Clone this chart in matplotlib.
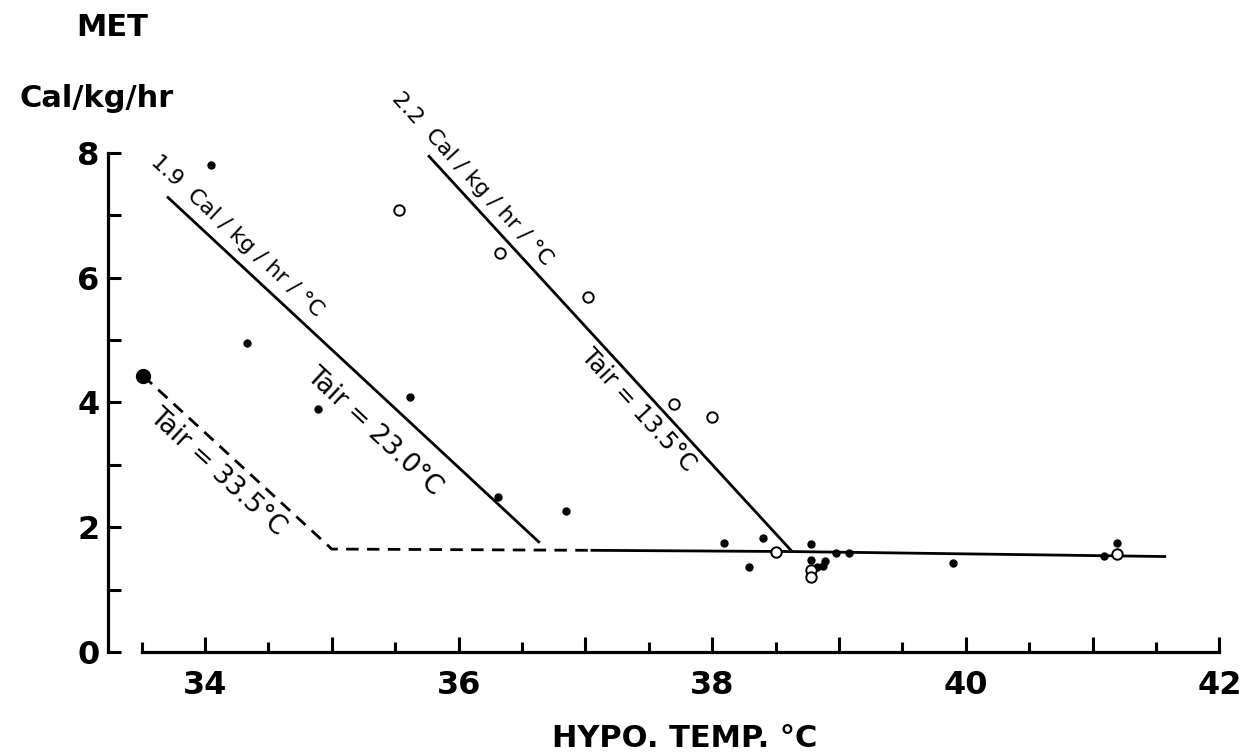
import numpy as np
import matplotlib
matplotlib.use("Agg")
import matplotlib.pyplot as plt
from matplotlib.ticker import FixedLocator

# fitted lines (hypothalamic temp, MET)
line_23_x = [33.70, 36.64]
line_23_y = [7.30, 1.75]
line_13_x = [35.76, 38.63, 41.58]
line_13_y = [7.96, 1.61, 1.53]
plateau_x = [37.04, 38.63]
plateau_y = [1.63, 1.61]
line_33_x = [33.51, 35.00, 37.04]
line_33_y = [4.43, 1.65, 1.63]

# filled points
filled_x = [34.05, 34.33, 35.62, 34.89, 36.31, 36.85, 38.09, 38.40, 38.29, 38.78,
            38.78, 38.83, 38.89, 38.87, 38.98, 39.08, 39.90, 41.09, 41.19]
filled_y = [7.81, 4.96, 4.08, 3.89, 2.48, 2.26, 1.75, 1.82, 1.36, 1.73,
            1.47, 1.37, 1.46, 1.38, 1.59, 1.59, 1.42, 1.54, 1.74]

# open points
open_x = [35.53, 36.33, 37.02, 37.70, 38.00, 38.50, 38.78, 38.78, 41.19]
open_y = [7.08, 6.40, 5.69, 3.97, 3.77, 1.61, 1.31, 1.20, 1.57]

# starting point of the Tair = 33.5 curve
big_x = [33.51]
big_y = [4.43]

x_major = [34, 35, 36, 37, 38, 39, 40, 41, 42]
x_labels = ["34", "", "36", "", "38", "", "40", "", "42"]
x_minor = [33.5, 34.5, 35.5, 36.5, 37.5, 38.5, 39.5, 40.5, 41.5]
y_major = [0, 2, 4, 6, 8]
y_minor = [1, 3, 5, 7]


def slope(xs, ys):
    return np.degrees(np.arctan((ys[1] - ys[0]) / (xs[1] - xs[0])))


fig = plt.figure(figsize=(12.44, 7.55), dpi=100)
ax = fig.add_axes([0.0868, 0.1364, 0.9019, 0.7025])
ax.set_xlim(33.235, 42.083)
ax.set_ylim(0, 8.5)

lw = 2.0
ax.plot(line_23_x, line_23_y, color="black", lw=lw, solid_capstyle="butt")
ax.plot(line_13_x, line_13_y, color="black", lw=lw, solid_capstyle="butt")
ax.plot(plateau_x, plateau_y, color="black", lw=lw, solid_capstyle="butt")
ax.plot(line_33_x, line_33_y, color="black", lw=lw, dashes=(4.5, 3))

ax.plot(filled_x, filled_y, "o", color="black", ms=5, clip_on=False, zorder=3)
ax.plot(open_x, open_y, "o", mfc="white", mec="black", mew=1.4, ms=7.5,
        clip_on=False, zorder=4)
ax.plot(big_x, big_y, "o", color="black", ms=10, clip_on=False, zorder=3)

# labels along the lines
txt = dict(color="black", ha="center", va="center", rotation_mode="anchor",
           transform_rotates_text=True)
ax.text(34.25, 6.67, "1.9  Cal / kg / hr / °C", fontsize=16,
        rotation=slope(line_23_x, line_23_y), **txt)
ax.text(36.11, 7.58, "2.2  Cal / kg / hr / °C", fontsize=16,
        rotation=slope(line_13_x, line_13_y), **txt)
ax.text(35.33, 3.54, "Tair = 23.0°C", fontsize=19,
        rotation=slope(line_23_x, line_23_y), **txt)
ax.text(37.42, 3.88, "Tair = 13.5°C", fontsize=17,
        rotation=slope(line_13_x, line_13_y), **txt)
ax.text(34.095, 2.885, "Tair = 33.5°C", fontsize=19,
        rotation=slope(line_33_x, line_33_y), **txt)

# axes styled like the hand-drawn original
for side in ["top", "right"]:
    ax.spines[side].set_visible(False)
ax.spines["left"].set_bounds(0, 8)
ax.spines["bottom"].set_bounds(33.5, 42)
ax.spines["left"].set_linewidth(2.3)
ax.spines["bottom"].set_linewidth(2.3)

ax.xaxis.set_major_locator(FixedLocator(x_major))
ax.xaxis.set_minor_locator(FixedLocator(x_minor))
ax.set_xticklabels(x_labels)
ax.yaxis.set_major_locator(FixedLocator(y_major))
ax.yaxis.set_minor_locator(FixedLocator(y_minor))

ax.tick_params(axis="x", which="major", direction="in", length=11, width=2.2,
               pad=13, labelsize=23)
ax.tick_params(axis="x", which="minor", direction="in", length=7, width=2.2)
ax.tick_params(axis="y", which="both", direction="in", length=9, width=2.2,
               pad=6, labelsize=23)
for lab in ax.get_xticklabels() + ax.get_yticklabels():
    lab.set_fontweight("bold")

fig.text(0.5506, 0.0225, "HYPO. TEMP. °C", fontsize=22, fontweight="bold",
         ha="center", va="center")
fig.text(0.090, 0.964, "MET", fontsize=22, fontweight="bold",
         ha="center", va="center")
fig.text(0.078, 0.870, "Cal/kg/hr", fontsize=22, fontweight="bold",
         ha="center", va="center")

fig.savefig("out.png", dpi=100, facecolor="white")
